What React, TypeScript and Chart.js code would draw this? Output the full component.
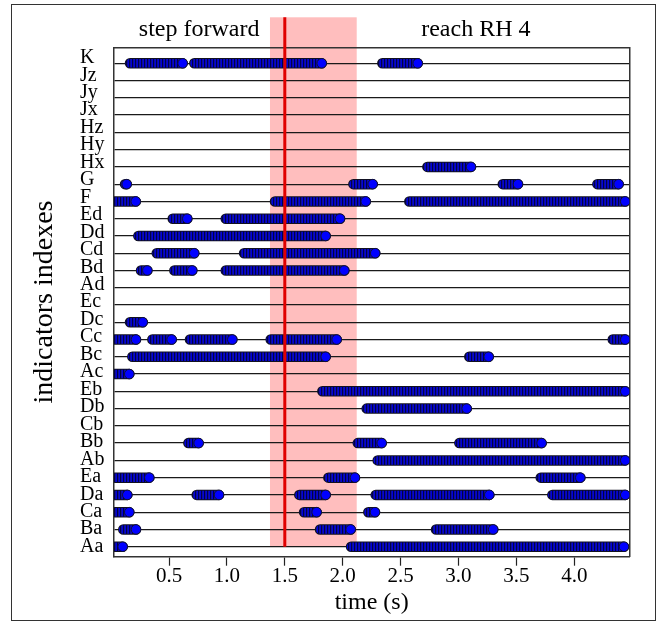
import React, { useEffect, useRef } from 'react';
import { Chart, registerables } from 'chart.js';

Chart.register(...registerables);

// Rows, bottom (index 0) to top
const rowLabels = [
  'Aa', 'Ba', 'Ca', 'Da', 'Ea', 'Ab', 'Bb', 'Cb', 'Db', 'Eb',
  'Ac', 'Bc', 'Cc', 'Dc', 'Ec', 'Ad', 'Bd', 'Cd', 'Dd', 'Ed',
  'F', 'G', 'Hx', 'Hy', 'Hz', 'Jx', 'Jy', 'Jz', 'K',
];

// Active intervals (row, start time, end time) in seconds
const intervalRows = [
  'K', 'K', 'K',
  'Hx',
  'G', 'G', 'G', 'G',
  'F', 'F', 'F',
  'Ed', 'Ed',
  'Dd',
  'Cd', 'Cd',
  'Bd', 'Bd', 'Bd',
  'Dc',
  'Cc', 'Cc', 'Cc', 'Cc', 'Cc',
  'Bc', 'Bc',
  'Ac',
  'Eb',
  'Db',
  'Bb', 'Bb', 'Bb',
  'Ab',
  'Ea', 'Ea', 'Ea',
  'Da', 'Da', 'Da', 'Da', 'Da',
  'Ca', 'Ca', 'Ca',
  'Ba', 'Ba', 'Ba',
  'Aa', 'Aa',
];
const intervalStarts = [
  0.163, 0.718, 2.342,
  2.731,
  0.12, 2.092, 3.382, 4.199,
  0.03, 1.415, 2.575,
  0.532, 0.99,
  0.235,
  0.394, 1.148,
  0.258, 0.546, 0.99,
  0.163,
  0.03, 0.356, 0.681, 1.378, 4.332,
  0.183, 3.093,
  0.03,
  1.824,
  2.207,
  0.667, 2.13, 3.007,
  2.302,
  0.03, 1.876, 3.71,
  0.03, 0.739, 1.625, 2.285, 3.81,
  0.03, 1.666, 2.221,
  0.105, 1.804, 2.806,
  0.03, 2.072,
];
const intervalEnds = [
  0.618, 1.819, 2.648,
  3.108,
  0.135, 2.259, 3.514, 4.383,
  0.213, 2.199, 4.44,
  0.658, 1.977,
  1.853,
  0.718, 2.281,
  0.313, 0.701, 2.014,
  0.273,
  0.215, 0.523, 1.047, 1.948, 4.44,
  1.853, 3.261,
  0.157,
  4.44,
  3.071,
  0.756, 2.337, 3.718,
  4.44,
  0.33, 2.106, 4.052,
  0.14, 0.932, 1.853, 3.266, 4.44,
  0.157, 1.775, 2.279,
  0.215, 2.069, 3.3,
  0.1, 4.429,
];

const xTickValues = [0.5, 1, 1.5, 2, 2.5, 3, 3.5, 4];
const xTickLabels = ['0.5', '1.0', '1.5', '2.0', '2.5', '3.0', '3.5', '4.0'];
const shadeRange = [1.372, 2.121];
const eventTime = 1.5;
const phaseLabels = ['step forward', 'reach RH 4'];
const phaseLabelTimes = [0.76, 3.15];

const SERIF = '"Liberation Serif", "Times New Roman", Times, serif';

export default function App() {
  const ref = useRef<HTMLCanvasElement>(null);

  useEffect(() => {
    const canvas = ref.current!;
    const ctx = canvas.getContext('2d')!;

    const pc = document.createElement('canvas');
    pc.width = 3;
    pc.height = 3;
    const g = pc.getContext('2d')!;
    g.fillStyle = '#0000dd';
    g.fillRect(0, 0, 3, 3);
    g.fillStyle = '#00004a';
    g.fillRect(0, 0, 1, 3);
    g.fillStyle = '#10109a';
    g.fillRect(1, 0, 1, 3);
    const pattern = ctx.createPattern(pc, 'repeat')!;

    const rowIndex = (r: string) => rowLabels.indexOf(r);
    const segData: any[] = [];
    intervalRows.forEach((r, i) => {
      const y = rowIndex(r);
      segData.push({ x: intervalStarts[i], y }, { x: intervalEnds[i], y }, { x: intervalEnds[i], y: null });
    });
    const endData = intervalRows.map((r, i) => ({ x: intervalEnds[i], y: rowIndex(r) }));

    const phasePlugin = {
      id: 'phaseMarks',
      beforeDraw(chart: any) {
        const { ctx: c, chartArea, scales } = chart;
        const x0 = scales.x.getPixelForValue(shadeRange[0]);
        const x1 = scales.x.getPixelForValue(shadeRange[1]);
        const top = chartArea.top - 30;
        const bottom = scales.y.getPixelForValue(0);
        c.save();
        c.fillStyle = '#ffbebe';
        c.fillRect(x0, top, x1 - x0, bottom - top);
        c.restore();
      },
      afterDatasetsDraw(chart: any) {
        const { ctx: c, chartArea, scales } = chart;
        const xp = scales.x.getPixelForValue(eventTime);
        const top = chartArea.top - 30;
        const bottom = scales.y.getPixelForValue(0);
        c.save();
        c.strokeStyle = '#e00000';
        c.lineWidth = 3;
        c.beginPath();
        c.moveTo(xp, top);
        c.lineTo(xp, bottom);
        c.stroke();
        c.restore();
      },
      afterDraw(chart: any) {
        const { ctx: c, chartArea, scales } = chart;
        c.save();
        c.fillStyle = '#000';
        c.font = `24px ${SERIF}`;
        c.textAlign = 'center';
        c.textBaseline = 'middle';
        phaseLabels.forEach((t, i) => {
          c.fillText(t, scales.x.getPixelForValue(phaseLabelTimes[i]), chartArea.top - 18);
        });
        c.restore();
      },
    };

    const rowTicks = (axis: any) => {
      axis.ticks = rowLabels.map((_, i) => ({ value: i }));
    };

    const chart = new Chart(ctx, {
      type: 'line',
      data: {
        datasets: [
          {
            type: 'scatter',
            data: endData,
            pointRadius: 4.8,
            pointBackgroundColor: '#0000ff',
            pointBorderColor: '#111133',
            pointBorderWidth: 1,
            order: 0,
            xAxisID: 'x',
            yAxisID: 'y',
          } as any,
          {
            type: 'line',
            data: segData,
            borderColor: pattern,
            borderWidth: 8.5,
            borderCapStyle: 'round',
            pointRadius: 0,
            spanGaps: false,
            tension: 0,
            order: 1,
            clip: 0,
            xAxisID: 'x',
            yAxisID: 'y',
          } as any,
          {
            type: 'line',
            data: segData,
            borderColor: '#111122',
            borderWidth: 10.5,
            borderCapStyle: 'round',
            pointRadius: 0,
            spanGaps: false,
            tension: 0,
            order: 2,
            clip: 0,
            xAxisID: 'x',
            yAxisID: 'y',
          } as any,
        ],
      },
      options: {
        animation: false,
        responsive: false,
        maintainAspectRatio: false,
        events: [],
        layout: { padding: { left: 0, right: 31.7, top: 47.3, bottom: 0 } },
        plugins: { legend: { display: false }, tooltip: { enabled: false } },
        scales: {
          x: {
            type: 'linear',
            position: 'bottom',
            min: 0.025,
            max: 4.475,
            bounds: 'data',
            afterBuildTicks: (axis: any) => {
              axis.ticks = xTickValues.map((v) => ({ value: v }));
            },
            afterFit: (s: any) => {
              s.height = 65.3;
            },
            ticks: {
              autoSkip: false,
              maxRotation: 0,
              padding: -2,
              color: '#000',
              font: { family: SERIF, size: 21 },
              callback: (v: any) => xTickLabels[xTickValues.indexOf(Number(v))],
            },
            grid: {
              drawOnChartArea: false,
              drawTicks: true,
              tickLength: 9,
              tickColor: '#222',
              tickWidth: 1.2,
            },
            border: { display: true, color: '#333', width: 1.5 },
            title: {
              display: true,
              text: 'time (s)',
              color: '#000',
              font: { family: SERIF, size: 24 },
              padding: { top: 0, bottom: 4.6 },
            },
          },
          x2: {
            type: 'linear',
            position: 'top',
            min: 0,
            max: 1,
            display: true,
            ticks: { display: false },
            grid: { display: false, drawTicks: false },
            border: { display: true, color: '#333', width: 1.5 },
            afterFit: (s: any) => {
              s.height = 0;
            },
          },
          y: {
            type: 'linear',
            position: 'left',
            min: -0.579,
            max: 28.927,
            bounds: 'data',
            weight: 0,
            afterBuildTicks: rowTicks,
            afterFit: (s: any) => {
              s.width = 0;
            },
            ticks: { display: false, autoSkip: false },
            grid: { color: '#1a1a1a', lineWidth: 1.3, drawTicks: false },
            border: { display: true, color: '#333', width: 1.5 },
          },
          yl: {
            type: 'linear',
            position: 'left',
            min: -0.573,
            max: 28.601,
            bounds: 'data',
            weight: 1,
            afterBuildTicks: rowTicks,
            afterFit: (s: any) => {
              s.width = 34;
            },
            ticks: {
              display: true,
              autoSkip: false,
              crossAlign: 'far',
              color: '#000',
              font: { family: SERIF, size: 20 },
              callback: (v: any) => rowLabels[Number(v)],
            },
            grid: { display: false, drawTicks: false },
            border: { display: false },
          },
          yt: {
            type: 'linear',
            position: 'left',
            min: 0,
            max: 1,
            weight: 2,
            afterFit: (s: any) => {
              s.width = 80;
            },
            ticks: { display: false },
            grid: { display: false, drawTicks: false },
            border: { display: false },
            title: {
              display: true,
              text: 'indicators indexes',
              color: '#000',
              font: { family: SERIF, size: 28 },
              padding: { top: 28.2, bottom: 0 },
            },
          },
          y2: {
            type: 'linear',
            position: 'right',
            min: 0,
            max: 1,
            ticks: { display: false },
            grid: { display: false, drawTicks: false },
            border: { display: true, color: '#333', width: 1.5 },
            afterFit: (s: any) => {
              s.width = 0;
            },
          },
        },
      } as any,
      plugins: [phasePlugin],
    });

    return () => chart.destroy();
  }, []);

  return (
    <div style={{ position: 'absolute', left: 0, top: 0, width: 661, height: 622 }}>
      <div
        style={{
          position: 'absolute',
          left: 11,
          top: 4,
          width: 645,
          height: 617,
          border: '1.5px solid #333',
          boxSizing: 'border-box',
        }}
      />
      <canvas ref={ref} width={661} height={622} style={{ position: 'absolute', left: 0, top: 0 }} />
    </div>
  );
}
